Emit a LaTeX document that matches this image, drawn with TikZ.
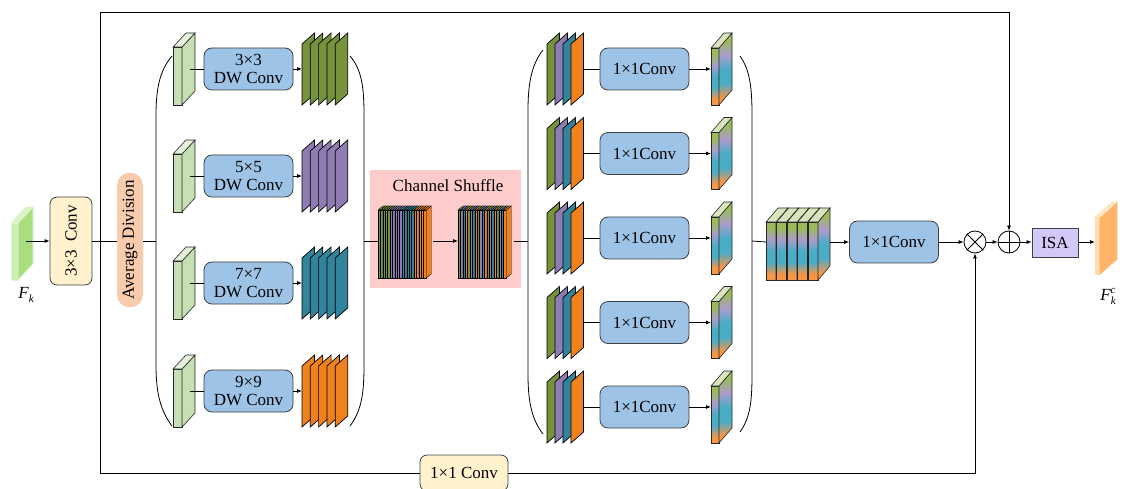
\documentclass[tikz,border=0pt]{standalone}
\usepackage{fontspec}
\setmainfont{Liberation Serif}
\usetikzlibrary{arrows.meta,calc}
\definecolor{cG}{HTML}{76923C}
\definecolor{cP}{HTML}{8E7CB3}
\definecolor{cT}{HTML}{31849B}
\definecolor{cO}{HTML}{F0821E}
\definecolor{gG}{HTML}{9BBB59}
\definecolor{gP}{HTML}{AC9CCB}
\definecolor{gT}{HTML}{4BACC6}
\definecolor{gO}{HTML}{F79646}
\definecolor{gTop}{HTML}{D7E4BD}
\definecolor{lgF}{HTML}{C6E0B4}
\definecolor{lgT}{HTML}{E4F0DB}
\definecolor{inF}{HTML}{CBEFB3}
\definecolor{inS}{HTML}{A8DE7E}
\definecolor{inT}{HTML}{D8F3C4}
\definecolor{ouF}{HTML}{FFDDAE}
\definecolor{ouS}{HTML}{FFB469}
\definecolor{ouT}{HTML}{FFE6C6}
\definecolor{convY}{HTML}{FFF2CC}
\definecolor{avgP}{HTML}{F8CBAD}
\definecolor{boxB}{HTML}{9DC3E6}
\definecolor{shufP}{HTML}{FFCCCC}
\definecolor{isaL}{HTML}{D4C8F8}
\definecolor{edge}{HTML}{404040}
\pgfdeclareverticalshading{featgrad}{100bp}{color(0bp)=(gO); color(30bp)=(gO); color(40bp)=(gT); color(50bp)=(gT); color(60bp)=(gP); color(70bp)=(gG); color(100bp)=(gG)}
% x, ybottom, w, h, dx, dy, front opts, side opts, top opts
\newcommand\slab[9]{%
 \path[#7] ({#1},{#2-#4}) rectangle ({#1+#3},{#2});
 \path[#8] ({#1+#3},{#2}) -- ({#1+#3},{#2-#4}) -- ({#1+#3+#5},{#2-#4-#6}) -- ({#1+#3+#5},{#2-#6}) -- cycle;
 \path[#9] ({#1},{#2-#4}) -- ({#1+#5},{#2-#4-#6}) -- ({#1+#3+#5},{#2-#4-#6}) -- ({#1+#3},{#2-#4}) -- cycle;
}
% parallelogram sheet: x, yc, colour
\newcommand\sheet[3]{%
 \path[draw=black, line width=0.7pt, fill=#3] ({#1},{#2+36}) -- ({#1},{#2-25}) -- ({#1+12.5},{#2-36}) -- ({#1+12.5},{#2+25}) -- cycle;
}
\begin{document}
\begin{tikzpicture}[x=1pt,y=-1pt,line width=0.8pt,
  font=\fontsize{17}{18}\selectfont,
  arr/.style={-{Latex[length=5pt,width=4pt]}},
  dwbox/.style={draw=edge, fill=boxB, rounded corners=8pt, minimum width=89pt, minimum height=42pt, align=center, inner sep=0pt},
  ybox/.style={draw=edge, fill=convY, rounded corners=7pt, inner sep=0pt},
  ol/.style={draw=black!85, line width=0.6pt}]
\useasboundingbox (0,0) rectangle (1125,489);

% ---------- outer frame ----------
\coordinate (tl) at (100,12);
\coordinate (bl) at (100,473);
\coordinate (tr) at (1009,12);
\coordinate (br) at (975,473);
\node[circle, draw, minimum size=22pt, inner sep=0pt] (mul) at (975,242) {};
\node[circle, draw, minimum size=22pt, inner sep=0pt] (add) at (1009,242) {};
\draw (mul.north west) -- (mul.south east) (mul.north east) -- (mul.south west);
\draw (add.north) -- (add.south) (add.west) -- (add.east);
\draw[arr] (bl) -- (tl) -- (tr) -- (add.north);
\draw[arr] (tl) -- (bl) -- (br) -- (mul.south);
\node[ybox, minimum width=88pt, minimum height=36pt] (bconv) at (464,473) {1×1 Conv};

% ---------- input ----------
\slab{11}{280}{7}{57}{15}{16}{fill=inF, draw=inF!60!white}{fill=inS, draw=inF!60!white}{fill=inT, draw=inF!60!white}
\coordinate (in) at (26,241);
\node (fk) at (26,295) {\itshape F\raisebox{-4pt}{\fontsize{11}{11}\selectfont k}};
\node[ybox, minimum width=42pt, minimum height=88pt] (conv) at (71,241) {\rotatebox{90}{3×3\enspace Conv}};
\node[fill=avgP, rounded corners=13pt, minimum width=26pt, minimum height=135pt, inner sep=0pt] (avg) at (130,240) {\rotatebox{90}{Average Division}};
\draw[arr] (in) -- (conv.west);
\draw (conv.east) -- (avg.west |- conv.east);

% ---------- first bracket group ----------
\draw (172,56) .. controls (160,70) and (156,88) .. (156,115) -- (156,365) .. controls (156,392) and (160,410) .. (172,426);
\draw (350,56) .. controls (362,70) and (364,88) .. (364,115) -- (364,365) .. controls (364,392) and (362,410) .. (350,426);
\coordinate (b1l) at (156,241);
\coordinate (b1r) at (364,241);
\draw (avg.east |- b1l) -- (b1l);

\foreach \y/\k/\c [count=\i] in {69/3/cG,176/5/cP,283/7/cT,391/9/cO}{
  \slab{173}{\y+36}{9}{58}{13}{14}{ol,fill=lgF}{ol,fill=lgF}{ol,fill=lgT}
  \coordinate (s\i) at (190,\y);
  \node[dwbox] (dw\i) at (248.5,\y) {\k×\k\\DW Conv};
  \coordinate (o\i) at (302,\y);
  \draw (s\i) -- (dw\i.west);
  \draw[arr] (dw\i.east) -- (o\i);
  \foreach \j in {0,...,4}{ \sheet{302+8.3*\j}{\y}{\c} }
}

% ---------- channel shuffle ----------
\node[fill=shufP, minimum width=151pt, minimum height=118pt, inner sep=0pt] (shuf) at (445.5,229) {};
\node (shtitle) at (448,186) {Channel Shuffle};
\foreach \c [count=\k from 0] in {cG,cG,cG,cG,cG,cP,cP,cP,cP,cP,cT,cT,cT,cT,cT,cO,cO,cO,cO,cO}{
  \slab{378+2.4*\k}{278}{2.6}{68}{5}{4}{draw=black,line width=0.4pt,fill=\c}{draw=black,line width=0.4pt,fill=\c}{draw=black,line width=0.4pt,fill=\c}
}
\foreach \c [count=\k from 0] in {cG,cP,cT,cO,cG,cP,cT,cO,cG,cP,cT,cO,cG,cP,cT,cO,cG,cP,cT,cO}{
  \slab{458+2.4*\k}{278}{2.6}{68}{5}{4}{draw=black,line width=0.4pt,fill=\c}{draw=black,line width=0.4pt,fill=\c}{draw=black,line width=0.4pt,fill=\c}
}
\coordinate (lsin) at (378,241);
\coordinate (lsout) at (433,241);
\coordinate (rsin) at (458,241);
\coordinate (rsout) at (514,241);
\draw (b1r) -- (lsin);
\draw[arr] (lsout) -- (rsin);

% ---------- second bracket group ----------
\draw (543,50) .. controls (532,64) and (528,82) .. (528,110) -- (528,375) .. controls (528,402) and (532,420) .. (543,434);
\draw (740,56) .. controls (750,70) and (752,88) .. (752,115) -- (752,375) .. controls (752,402) and (750,418) .. (740,432);
\coordinate (b2l) at (528,241);
\coordinate (b2r) at (752,241);
\draw (rsout) -- (b2l);

\foreach \y [count=\i] in {69,153.5,238,322.5,407}{
  \sheet{547}{\y}{cG}\sheet{555}{\y}{cP}\sheet{563}{\y}{cT}\sheet{571}{\y}{cO}
  \coordinate (p\i) at (584,\y);
  \node[dwbox] (pc\i) at (644.5,\y) {1×1Conv};
  \coordinate (g\i) at (711,\y);
  \draw (p\i) -- (pc\i.west);
  \draw[arr] (pc\i.east) -- (g\i);
  \slab{711}{\y+36}{8}{57}{13}{15}{ol,shade,shading=featgrad}{ol,shade,shading=featgrad}{ol,fill=gTop}
}

% ---------- merge ----------
\foreach \j in {0,...,4}{
  \slab{766+10.5*\j}{280}{10}{58}{12}{14}{ol,shade,shading=featgrad}{ol,shade,shading=featgrad}{ol,fill=gTop}
}
\coordinate (stin) at (766,242);
\coordinate (stout) at (830,242);
\draw (b2r) -- (stin);
\node[dwbox] (fc) at (894,242) {1×1Conv};
\draw[arr] (stout) -- (fc.west);
\draw[arr] (fc.east) -- (mul.west);
\draw[arr] (mul.east) -- (add.west);
\node[draw=edge, fill=isaL, minimum width=46pt, minimum height=29pt, inner sep=0pt] (isa) at (1055,243) {ISA};
\draw[arr] (add.east) -- (isa.west |- add.east);
\coordinate (out) at (1095,242);
\draw[arr] (isa.east |- out) -- (out);
\slab{1095}{274}{5}{57}{17}{15}{fill=ouF, draw=ouF}{fill=ouS, draw=ouS}{fill=ouT, draw=ouT}
\node (fkc) at (1108,296) {\itshape F\raisebox{-4pt}{\fontsize{11}{11}\selectfont k}\kern-5pt\raisebox{7pt}{\fontsize{11}{11}\selectfont c}};
\end{tikzpicture}
\end{document}
